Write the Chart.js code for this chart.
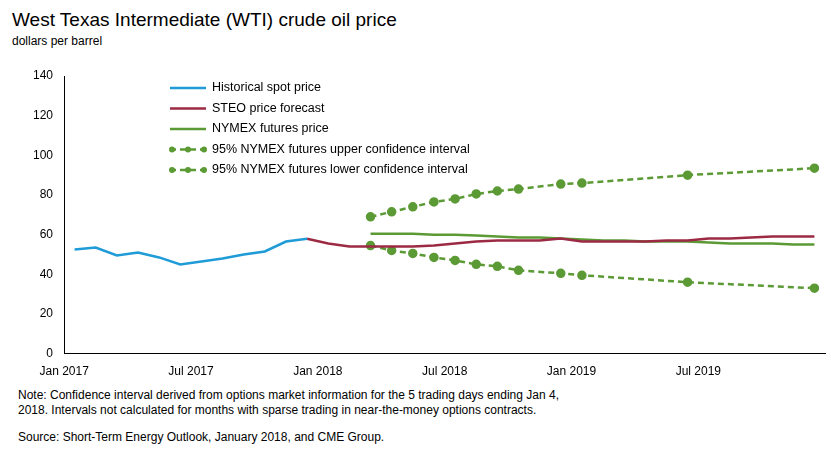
<!DOCTYPE html>
<html><head><meta charset="utf-8">
<script src="https://cdn.jsdelivr.net/npm/chart.js@4"></script>
<style>
body{margin:0;background:#fff;font-family:Arial,"Liberation Sans",sans-serif;width:831px;height:462px;position:relative;overflow:hidden}
#t{position:absolute;left:12px;top:9px;font-size:19px;color:#000}
#s{position:absolute;left:12px;top:34px;font-size:12px;color:#000}
#n{position:absolute;left:18px;top:388px;font-size:12px;line-height:15px;color:#000}
#src{position:absolute;left:18px;top:430px;font-size:12px;color:#000}
#w{position:absolute;left:0;top:62px;width:831px;height:320px}
</style></head><body>
<div id="t">West Texas Intermediate (WTI) crude oil price</div>
<div id="s">dollars per barrel</div>
<div id="w"><canvas id="c"></canvas></div>
<div id="n">Note: Confidence interval derived from options market information for the 5 trading days ending Jan 4,<br>2018. Intervals not calculated for months with sparse trading in near-the-money options contracts.</div>
<div id="src">Source: Short-Term Energy Outlook, January 2018, and CME Group.</div>
<script>
const months = [];
const mn = ['Jan','Feb','Mar','Apr','May','Jun','Jul','Aug','Sep','Oct','Nov','Dec'];
for (const y of [2017, 2018, 2019]) for (const m of mn) months.push(m + ' ' + y);

const historical = [52.5,53.5,49.5,51,48.5,45,46.5,48,50,51.5,56.5,57.9];
const steo = [null,null,null,null,null,null,null,null,null,null,null,57.9,
  55.5,54,54,54,54,54.5,55.5,56.5,57,57,57,58,
  56.5,56.5,56.5,56.5,57,57,58,58,58.5,59,59,59];
const futures = [null,null,null,null,null,null,null,null,null,null,null,null,
  null,null,60.5,60.5,60.5,60,60,59.5,59,58.5,58.5,58,
  57.5,57,57,56.5,56.5,56.5,56,55.5,55.5,55.5,55,55];
const upper = [null,null,null,null,null,null,null,null,null,null,null,null,
  null,null,69,71.5,74,76.5,78,80.5,82,83,null,85.5,
  86,null,null,null,null,90,null,null,null,null,null,93.5];
const lower = [null,null,null,null,null,null,null,null,null,null,null,null,
  null,null,54.5,52,50.5,48.5,47,45,44,42,null,40.5,
  39.5,null,null,null,null,36,null,null,null,null,null,33];
const labels = ['Historical spot price','STEO price forecast','NYMEX futures price',
  '95% NYMEX futures upper confidence interval','95% NYMEX futures lower confidence interval'];

const blue='#1f9bd7', red='#9c2a44', green='#5b9a35';
const line = (data,c,i)=>({label:labels[i],data,borderColor:c,backgroundColor:c,borderWidth:2.5,pointRadius:0,tension:0});
const dash = (data,i)=>({label:labels[i],data,borderColor:green,backgroundColor:green,borderWidth:2.5,borderDash:[6,4],pointRadius:3.5,pointHoverRadius:3.5,spanGaps:true});

const legendPlugin = {
  id:'leg',
  afterDraw(chart){
    const ctx=chart.ctx;
    chart.data.datasets.forEach((d,i)=>{
      const y=26+i*20.5, x=170;
      ctx.save();
      ctx.strokeStyle=d.borderColor; ctx.lineWidth=2.5;
      ctx.setLineDash(d.borderDash||[]);
      ctx.beginPath(); ctx.moveTo(x,y); ctx.lineTo(x+36,y); ctx.stroke();
      if (d.pointRadius){ ctx.fillStyle=d.borderColor; for (const px of [x+2,x+18,x+34]){ctx.beginPath();ctx.arc(px,y,3,0,Math.PI*2);ctx.fill();} }
      ctx.fillStyle='#000'; ctx.font='12.5px Arial, "Liberation Sans"'; ctx.textBaseline='middle';
      ctx.fillText(d.label,x+42,y);
      ctx.restore();
    });
  }
};

new Chart(document.getElementById('c'),{
  type:'line',
  data:{labels:months,datasets:[line(historical,blue,0),line(steo,red,1),line(futures,green,2),dash(upper,3),dash(lower,4)]},
  options:{
    responsive:true,maintainAspectRatio:false,animation:false,
    layout:{padding:{left:30,right:4,top:14}},
    plugins:{legend:{display:false},tooltip:{enabled:false}},
    scales:{
      x:{offset:true,grid:{display:false,offset:true},border:{color:'#000'},
        ticks:{color:'#000',font:{size:12},maxRotation:0,autoSkip:false,labelOffset:-10.4,
          callback:(v,i)=>(i%6===0)?months[i]:''}},
      y:{min:0,max:140,grid:{display:false},border:{color:'#000'},
        ticks:{stepSize:20,color:'#000',font:{size:12}}}
    }
  },
  plugins:[legendPlugin]
});
</script>
</body></html>
